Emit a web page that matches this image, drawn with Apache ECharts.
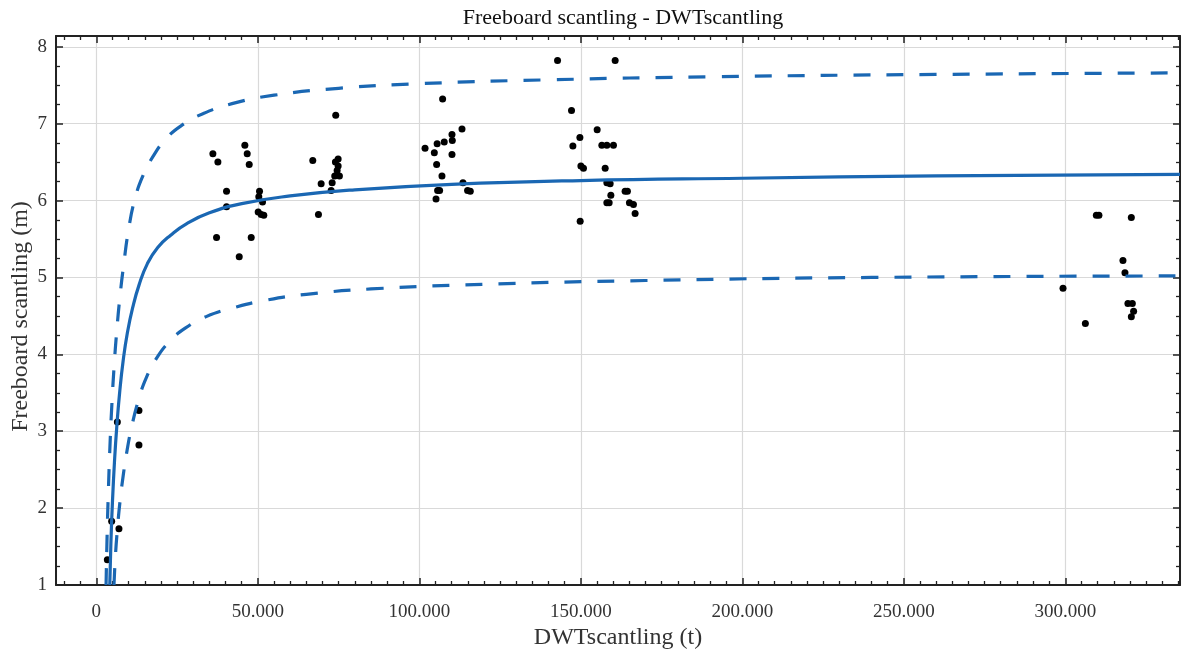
<!DOCTYPE html>
<html>
<head>
<meta charset="utf-8">
<script src="https://cdn.jsdelivr.net/npm/echarts@6/dist/echarts.min.js"></script>
<style>
  html, body { margin: 0; padding: 0; background: #ffffff; }
  #chart { width: 1182px; height: 655px; }
</style>
</head>
<body>
<div id="chart"></div>
<script>
// Ship observations: deadweight (t) and freeboard (m)
const dwt = [
  3400, 4730, 6990, 6495, 13180, 13180,
  36070, 37620, 45970, 46700, 47320, 40300, 40300, 37210, 47940, 44230,
  50510, 50290, 51440, 50100, 51030, 51840,
  67000, 69590, 68760, 74110, 73000, 72690, 74010, 74850, 74850, 74540, 73800, 75250,
  107200, 113200, 110100, 110200, 107700, 105500, 101760, 104630, 110100, 105350,
  107000, 113500, 105650, 106270, 114930, 115770, 105160,
  142780, 160620, 147110, 155050, 149700, 147530, 156500, 158050, 160090, 150010,
  150810, 157530, 158050, 159070, 159290, 163700, 164420, 158050, 158760, 165040,
  166280, 166800, 149790,
  309600, 310400, 320430, 317840, 318460, 299280, 319370, 320740, 321140, 320430, 306200
];
const freeboard = [
  1.33, 1.83, 1.73, 3.12, 3.27, 2.82,
  6.61, 6.50, 6.72, 6.61, 6.47, 6.12, 5.92, 5.52, 5.52, 5.27,
  6.12, 6.05, 5.98, 5.85, 5.82, 5.81,
  6.52, 6.22, 5.82, 7.11, 6.23, 6.13, 6.50, 6.54, 6.45, 6.39, 6.32, 6.32,
  7.32, 6.93, 6.86, 6.78, 6.76, 6.74, 6.68, 6.62, 6.60, 6.47,
  6.32, 6.23, 6.13, 6.13, 6.13, 6.12, 6.02,
  7.82, 7.82, 7.17, 6.92, 6.82, 6.71, 6.72, 6.72, 6.72, 6.45,
  6.42, 6.42, 6.23, 6.22, 6.07, 6.12, 6.12, 5.97, 5.97, 5.97,
  5.95, 5.83, 5.73,
  5.81, 5.81, 5.78, 5.22, 5.06, 4.86, 4.66, 4.66, 4.56, 4.49, 4.40
];

// Fitted curve and its upper / lower band
const fitX = [4150, 4500, 5000, 5600, 6300, 7200, 8300, 9600, 11200, 13200, 15800, 19000,
  23000, 28000, 35000, 45000, 60000, 80000, 110000, 150000, 200000, 260000, 335500];
const fitY = [1.0, 1.55, 2.1, 2.6, 3.05, 3.5, 3.92, 4.28, 4.6, 4.9, 5.18, 5.39,
  5.55, 5.7, 5.84, 5.96, 6.06, 6.14, 6.21, 6.26, 6.29, 6.32, 6.34];

const upperX = [3000, 3300, 3700, 4200, 4800, 5500, 6300, 7300, 8500, 10000, 12000, 14500,
  17500, 21500, 26500, 33000, 42000, 55000, 75000, 100000, 140000, 190000, 260000, 335500];
const upperY = [1.0, 1.6, 2.2, 2.8, 3.35, 3.85, 4.3, 4.75, 5.18, 5.63, 6.03, 6.33,
  6.57, 6.8, 6.98, 7.13, 7.26, 7.37, 7.46, 7.52, 7.57, 7.61, 7.64, 7.66];

const lowerX = [5450, 5900, 6500, 7300, 8300, 9500, 11000, 13000, 15500, 18500, 22500,
  27500, 34000, 42000, 52000, 65000, 85000, 120000, 170000, 240000, 335500];
const lowerY = [1.0, 1.38, 1.72, 2.08, 2.42, 2.75, 3.07, 3.40, 3.70, 3.94, 4.16,
  4.34, 4.49, 4.60, 4.70, 4.78, 4.85, 4.91, 4.96, 5.0, 5.02];

// Axis ranges and tick values
const xRange = [-12500, 335500];
const yRange = [1, 8.14];
const xMinorTicks = [];
for (let v = -10000; v <= 335000; v += 5000) if (v % 50000 !== 0) xMinorTicks.push(v);
const yMinorTicks = [];
for (let v = 1.25; v < 8.01; v += 0.25) if (Math.abs(v - Math.round(v)) > 1e-6) yMinorTicks.push(+v.toFixed(2));

const FONT = '"Liberation Serif", "Times New Roman", serif';
const BLUE = '#1a67b3';
const AXIS = '#222222';
const GRID = '#d9d9d9';

const zip = (a, b) => a.map((v, i) => [v, b[i]]);
const thousands = v => String(Math.round(v)).replace(/\B(?=(\d{3})+(?!\d))/g, '.');

function majorX(position, labels) {
  return {
    type: 'value', position, min: xRange[0], max: xRange[1], splitNumber: 7,
    axisLine: { show: true, onZero: false, lineStyle: { color: AXIS, width: 2 } },
    axisTick: { show: true, inside: true, length: 7, lineStyle: { color: AXIS, width: 1.5 } },
    axisLabel: labels ? {
      show: true, margin: 18, color: '#333', fontFamily: FONT, fontSize: 19,
      showMinLabel: false, showMaxLabel: false, formatter: thousands
    } : { show: false },
    splitLine: labels ? { show: true, lineStyle: { color: GRID, width: 1.2 } } : { show: false },
    name: labels ? 'DWTscantling (t)' : '', nameLocation: 'middle', nameGap: 41,
    nameMoveOverlap: false,
    nameTextStyle: { fontFamily: FONT, fontSize: 24, color: '#333' }
  };
}
function minorX(position) {
  return {
    type: 'value', position, min: xRange[0], max: xRange[1],
    axisLine: { show: false, onZero: false },
    axisTick: { show: true, inside: true, length: 4, customValues: xMinorTicks,
      lineStyle: { color: AXIS, width: 1.3 } },
    axisLabel: { show: false }, splitLine: { show: false }
  };
}
function majorY(position, labels) {
  return {
    type: 'value', position, min: yRange[0], max: yRange[1], interval: 1,
    axisLine: { show: true, onZero: false, lineStyle: { color: AXIS, width: 2 } },
    axisTick: { show: true, inside: true, length: 7, lineStyle: { color: AXIS, width: 1.5 } },
    axisLabel: labels ? {
      show: true, margin: 9, color: '#333', fontFamily: FONT, fontSize: 19,
      showMaxLabel: false, formatter: v => String(Math.round(v))
    } : { show: false },
    splitLine: labels ? { show: true, lineStyle: { color: GRID, width: 1.2 } } : { show: false },
    name: labels ? 'Freeboard scantling (m)' : '', nameLocation: 'middle', nameGap: 23,
    nameMoveOverlap: false,
    nameTextStyle: { fontFamily: FONT, fontSize: 24, color: '#333', padding: [0, 12, 0, 0] }
  };
}
function minorY(position) {
  return {
    type: 'value', position, min: yRange[0], max: yRange[1],
    axisLine: { show: false, onZero: false },
    axisTick: { show: true, inside: true, length: 4, customValues: yMinorTicks,
      lineStyle: { color: AXIS, width: 1.3 } },
    axisLabel: { show: false }, splitLine: { show: false }
  };
}

const bandLine = (xs, ys, dashed) => ({
  type: 'line', xAxisIndex: 0, yAxisIndex: 0, data: zip(xs, ys),
  showSymbol: false, smooth: 0.5,
  lineStyle: { color: BLUE, width: 3.2, type: dashed ? [17, 16] : 'solid' }, z: 3
});

const chart = echarts.init(document.getElementById('chart'), null, { renderer: 'canvas' });
chart.setOption({
  backgroundColor: '#ffffff',
  animation: false,
  title: {
    text: 'Freeboard scantling - DWTscantling',
    left: 618, top: 2, textAlign: 'center',
    textStyle: { fontFamily: FONT, fontSize: 22, fontWeight: 'normal', color: '#111' }
  },
  grid: { left: 56, right: 2, top: 36, bottom: 70, containLabel: false, outerBoundsMode: 'none' },
  xAxis: [majorX('bottom', true), majorX('top', false), minorX('bottom'), minorX('top')],
  yAxis: [majorY('left', true), majorY('right', false), minorY('left'), minorY('right')],
  series: [
    {
      type: 'scatter', xAxisIndex: 0, yAxisIndex: 0,
      data: zip(dwt, freeboard), symbol: 'circle', symbolSize: 7,
      itemStyle: { color: '#000000', opacity: 1 }, z: 2
    },
    bandLine(fitX, fitY, false),
    bandLine(upperX, upperY, true),
    bandLine(lowerX, lowerY, true)
  ]
});
</script>
</body>
</html>
